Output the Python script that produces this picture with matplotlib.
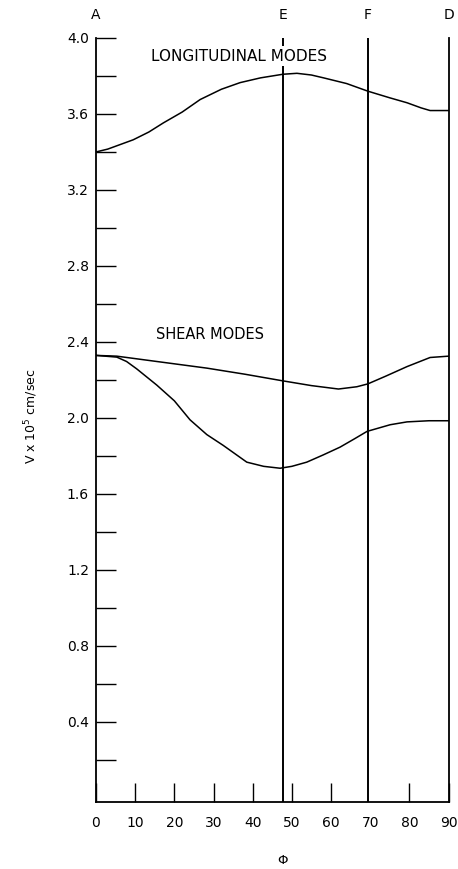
import matplotlib
matplotlib.use("Agg")
import matplotlib.pyplot as plt

# angle phi (deg) and velocity (1e5 cm/sec)
long_phi = [0, 3, 9.5, 13.5, 17.2, 22, 26.6, 32, 36.8, 42, 47.7, 51.3, 55, 58.1, 64, 69.4, 75, 79.4, 83, 85.3, 90]
long_v = [3.40, 3.415, 3.464, 3.505, 3.553, 3.61, 3.676, 3.73, 3.765, 3.79, 3.809, 3.814, 3.805, 3.79, 3.76,
          3.72, 3.685, 3.659, 3.632, 3.618, 3.618]

shear1_phi = [0, 5.3, 15.5, 28.3, 38, 47.7, 55, 61.9, 66.6, 69.4, 74, 79.4, 85.3, 90]
shear1_v = [2.329, 2.325, 2.297, 2.262, 2.23, 2.195, 2.17, 2.152, 2.164, 2.179, 2.22, 2.27, 2.318, 2.325]

shear2_phi = [0, 5.3, 7.8, 10.4, 15.5, 20, 24, 28.3, 32.5, 38.5, 42.8, 47, 50, 53.8, 58, 62.3, 66,
              69.2, 75.1, 79.4, 85, 90]
shear2_v = [2.329, 2.32, 2.297, 2.258, 2.173, 2.09, 1.99, 1.912, 1.855, 1.767, 1.745, 1.735, 1.745,
            1.767, 1.805, 1.846, 1.89, 1.929, 1.964, 1.979, 1.985, 1.985]

marks = ['A', 'E', 'F', 'D']
mark_phi = [0, 47.7, 69.4, 90]

yticks = [round(0.2 * i, 1) for i in range(1, 21)]
ylabels = ['%.1f' % t if i % 2 == 1 else '' for i, t in enumerate(yticks)]
xticks = list(range(0, 100, 10))

fig = plt.figure(figsize=(4.58, 8.69), dpi=100)
ax = fig.add_axes([0.2096, 0.0771, 0.7697, 0.8792])

ax.plot(long_phi, long_v, color='black', lw=1.1)
ax.plot(shear1_phi, shear1_v, color='black', lw=1.1)
ax.plot(shear2_phi, shear2_v, color='black', lw=1.1)

# vertical lines at E and F (D is the right spine)
for p in mark_phi[1:3]:
    ax.axvline(p, color='black', lw=1.4, zorder=1)

for m, p in zip(marks, mark_phi):
    ax.text(p, 1.030, m, transform=ax.get_xaxis_transform(), ha='center', va='center', fontsize=10)

ax.text(36.5, 3.905, 'LONGITUDINAL MODES', ha='center', va='center', fontsize=11, zorder=5,
        bbox=dict(facecolor='white', edgecolor='none', pad=1.5))
ax.text(29.1, 2.44, 'SHEAR MODES', ha='center', va='center', fontsize=10.5)

ax.set_xlim(0, 90)
ax.set_ylim(-0.022, 4.0)
ax.set_yticks(yticks)
ax.set_yticklabels(ylabels)
ax.set_xticks(xticks)
ax.set_xticklabels([str(t) for t in xticks])
ax.tick_params(axis='y', direction='in', length=14.4, width=1.0, pad=5, labelsize=10)
ax.tick_params(axis='x', direction='in', length=13.7, width=1.0, pad=10, labelsize=10)
# the 70 tick falls under the F line
ax.xaxis.get_major_ticks()[7].tick1line.set_visible(False)

ax.spines['top'].set_visible(False)
for s in ['left', 'bottom', 'right']:
    ax.spines[s].set_linewidth(1.3)

ax.set_xlabel('Φ', fontsize=9.5)
ax.xaxis.set_label_coords(0.528, -0.068)
ax.set_ylabel('V x 10$^5$ cm/sec', fontsize=9)
ax.yaxis.set_label_coords(-0.158, 0.505)

fig.savefig('out.png', dpi=100)
